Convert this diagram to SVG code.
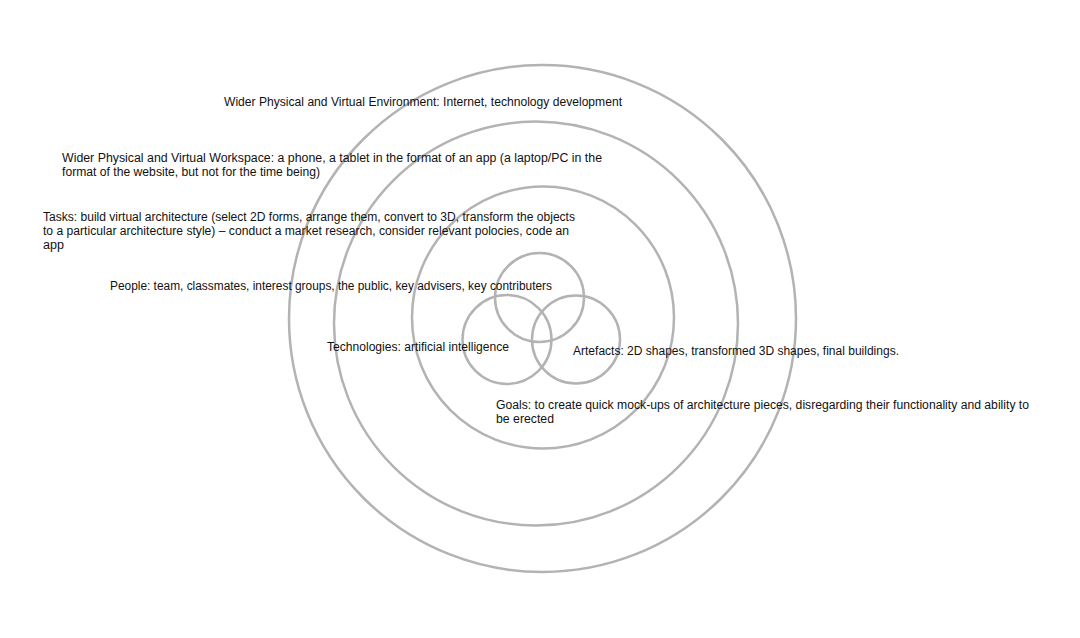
<svg xmlns="http://www.w3.org/2000/svg" width="1080" height="638" viewBox="0 0 1080 638">
<style>
  .ring { fill: none; stroke: #b3b3b3; stroke-width: 2.5; }
  .lbl { font-family: "Liberation Sans", Arial, sans-serif; font-size: 12.5px; fill: #111111; }
</style>
<rect width="1080" height="638" fill="#ffffff"/>
<g id="environment">
  <circle class="ring" cx="542.5" cy="318.5" r="253.5"/>
  <text class="lbl" x="224" y="105.5" textLength="398" lengthAdjust="spacingAndGlyphs">Wider Physical and Virtual Environment: Internet, technology development</text>
</g>
<g id="workspace">
  <circle class="ring" cx="536" cy="323.5" r="202"/>
  <text class="lbl" x="62" y="161.5" textLength="540" lengthAdjust="spacingAndGlyphs">Wider Physical and Virtual Workspace: a phone, a tablet in the format of an app (a laptop/PC in the</text>
  <text class="lbl" x="62" y="176" textLength="258" lengthAdjust="spacingAndGlyphs">format of the website, but not for the time being)</text>
</g>
<g id="tasks">
  <circle class="ring" cx="543" cy="317.5" r="131"/>
  <text class="lbl" x="43" y="220.5" textLength="532" lengthAdjust="spacingAndGlyphs">Tasks: build virtual architecture (select 2D forms, arrange them, convert to 3D, transform the objects</text>
  <text class="lbl" x="43" y="234.5" textLength="526" lengthAdjust="spacingAndGlyphs">to a particular architecture style) – conduct a market research, consider relevant polocies, code an</text>
  <text class="lbl" x="43" y="248.5" textLength="21" lengthAdjust="spacingAndGlyphs">app</text>
</g>
<g id="people">
  <circle class="ring" cx="539.5" cy="297.5" r="44.5"/>
  <text class="lbl" x="110" y="289.5" textLength="442" lengthAdjust="spacingAndGlyphs">People: team, classmates, interest groups, the public, key advisers, key contributers</text>
</g>
<g id="technologies">
  <circle class="ring" cx="507" cy="339.5" r="44.5"/>
  <text class="lbl" x="327" y="350.5" textLength="182" lengthAdjust="spacingAndGlyphs">Technologies: artificial intelligence</text>
</g>
<g id="artefacts">
  <circle class="ring" cx="576" cy="339.5" r="44"/>
  <text class="lbl" x="573" y="354.5" textLength="326" lengthAdjust="spacingAndGlyphs">Artefacts: 2D shapes, transformed 3D shapes, final buildings.</text>
</g>
<g id="goals">
  <text class="lbl" x="496" y="408.5" textLength="533" lengthAdjust="spacingAndGlyphs">Goals: to create quick mock-ups of architecture pieces, disregarding their functionality and ability to</text>
  <text class="lbl" x="496" y="422.5" textLength="58" lengthAdjust="spacingAndGlyphs">be erected</text>
</g>
<g id="connectors"/>
</svg>
